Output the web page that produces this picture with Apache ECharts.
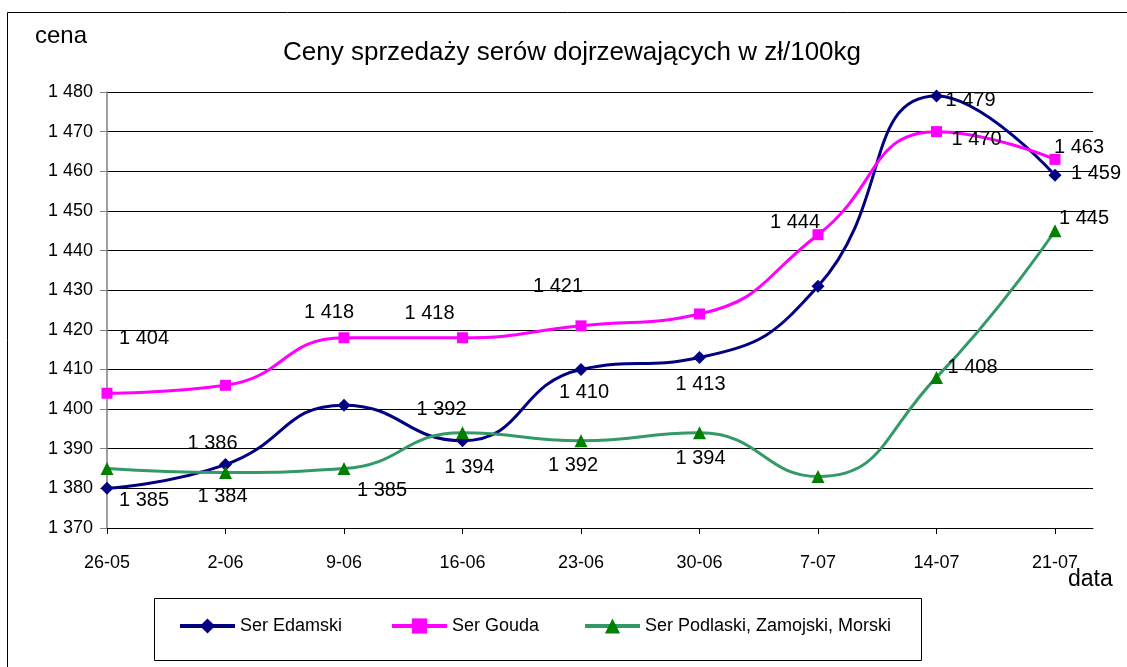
<!DOCTYPE html>
<html>
<head>
<meta charset="utf-8">
<script src="https://cdn.jsdelivr.net/npm/echarts@6/dist/echarts.min.js"></script>
<style>
  html, body { margin: 0; padding: 0; background: #fff; }
  #chart { width: 1127px; height: 667px; }
</style>
</head>
<body>
<div id="chart"></div>
<script>
const dates = ['26-05', '2-06', '9-06', '16-06', '23-06', '30-06', '7-07', '14-07', '21-07']
const edamski = [1380, 1386, 1401, 1392, 1410, 1413, 1431, 1479, 1459]
const gouda = [1404, 1406, 1418, 1418, 1421, 1424, 1444, 1470, 1463]
const podlaski = [1385, 1384, 1385, 1394, 1392, 1394, 1383, 1408, 1445]
const seriesNames = ['Ser Edamski', 'Ser Gouda', 'Ser Podlaski, Zamojski, Morski']

// where each value label sits relative to its point (null = no label), like the Excel original
const edamskiLabelOffsets = [null, [-13, -21], null, [-21, -31], [3, 23], [1, 27], null, [34, 5], [41, -2]]
const goudaLabelOffsets = [[37, -55], null, [-15, -25], [-33, -24], [-23, -39], null, [-23, -12], [40, 8], [24, -12]]
const podlaskiLabelOffsets = [[37, 32], [-3, 24], [38, 22], [7, 35], [-8, 25], [1, 26], null, [36, -10], [29, -12]]

const font = '"Liberation Sans", Arial, sans-serif'
const fmt = v => String(v).replace(/\B(?=(\d{3})+(?!\d))/g, ' ')

function withLabels (values, offsets) {
  return values.map((v, i) => ({
    value: v,
    label: offsets[i] ? { show: true, offset: offsets[i] } : { show: false }
  }))
}

function lineSeries (name, values, offsets, lineColor, markColor, symbol, size) {
  return {
    name: name,
    type: 'line',
    xAxisIndex: 1,
    yAxisIndex: 1,
    smooth: 0.5,
    symbol: symbol,
    symbolSize: size,
    lineStyle: { color: lineColor, width: 3 },
    itemStyle: { color: markColor },
    label: {
      position: 'inside',
      formatter: p => fmt(p.value),
      color: '#000',
      fontSize: 20,
      fontFamily: font
    },
    emphasis: { disabled: true },
    data: withLabels(values, offsets)
  }
}

const legendCommon = {
  top: 617,
  itemWidth: 55,
  itemHeight: 19,
  itemGap: 0,
  padding: 0,
  lineStyle: { width: 4 },
  textStyle: { color: '#000', fontSize: 18, fontFamily: font }
}

const option = {
  backgroundColor: '#fff',
  animation: false,
  title: [
    { text: 'Ceny sprzedaży serów dojrzewających w zł/100kg', left: 283, top: 40, padding: 0,
      textStyle: { fontSize: 26, fontWeight: 'normal', color: '#000', fontFamily: font } },
    { text: 'cena', left: 35, top: 24, padding: 0,
      textStyle: { fontSize: 24, fontWeight: 'normal', color: '#000', fontFamily: font } },
    { text: 'data', left: 1068, top: 568, padding: 0,
      textStyle: { fontSize: 23, fontWeight: 'normal', color: '#000', fontFamily: font } }
  ],
  legend: [
    Object.assign({ left: 178, data: [seriesNames[0]] }, legendCommon),
    Object.assign({ left: 390, data: [seriesNames[1]] }, legendCommon),
    Object.assign({ left: 583, data: [seriesNames[2]] }, legendCommon)
  ],
  graphic: [
    { type: 'rect', shape: { x: 7.5, y: 12.5, width: 1200, height: 700 },
      style: { fill: 'none', stroke: '#000', lineWidth: 1 }, silent: true },
    { type: 'rect', shape: { x: 154.5, y: 598.5, width: 767, height: 62 },
      style: { fill: 'none', stroke: '#000', lineWidth: 1 }, silent: true }
  ],
  grid: [
    { left: 107, right: 34, top: 92, bottom: 139 },
    { left: 107, right: 72, top: 92, bottom: 139 }
  ],
  xAxis: [
    {
      gridIndex: 0, type: 'value', min: 0, max: 1,
      axisLine: { show: true, lineStyle: { color: '#000', width: 1 } },
      axisTick: { show: false }, axisLabel: { show: false }, splitLine: { show: false }
    },
    {
      gridIndex: 1, type: 'category', boundaryGap: false, data: dates,
      axisLine: { show: false },
      axisTick: { show: true, length: 6, lineStyle: { color: '#000' } },
      axisLabel: { margin: 26, color: '#000', fontSize: 18, fontFamily: font },
      splitLine: { show: false }
    }
  ],
  yAxis: [
    {
      gridIndex: 0, type: 'value', min: 1370, max: 1480, interval: 10,
      axisLine: { show: true, lineStyle: { color: '#808080', width: 1.5 } },
      axisTick: { show: true, length: 7, lineStyle: { color: '#808080' } },
      axisLabel: { margin: 14, color: '#000', fontSize: 18, fontFamily: font, formatter: fmt },
      splitLine: { show: true, lineStyle: { color: '#000', width: 1 } }
    },
    {
      gridIndex: 1, type: 'value', min: 1370, max: 1480, interval: 10, show: false
    }
  ],
  series: [
    lineSeries(seriesNames[0], edamski, edamskiLabelOffsets, '#000080', '#000080', 'diamond', 13),
    lineSeries(seriesNames[1], gouda, goudaLabelOffsets, '#ff00ff', '#ff00ff', 'rect', 11),
    lineSeries(seriesNames[2], podlaski, podlaskiLabelOffsets, '#339966', '#008000', 'triangle', 13)
  ]
}

const chart = echarts.init(document.getElementById('chart'))
chart.setOption(option)
</script>
</body>
</html>
